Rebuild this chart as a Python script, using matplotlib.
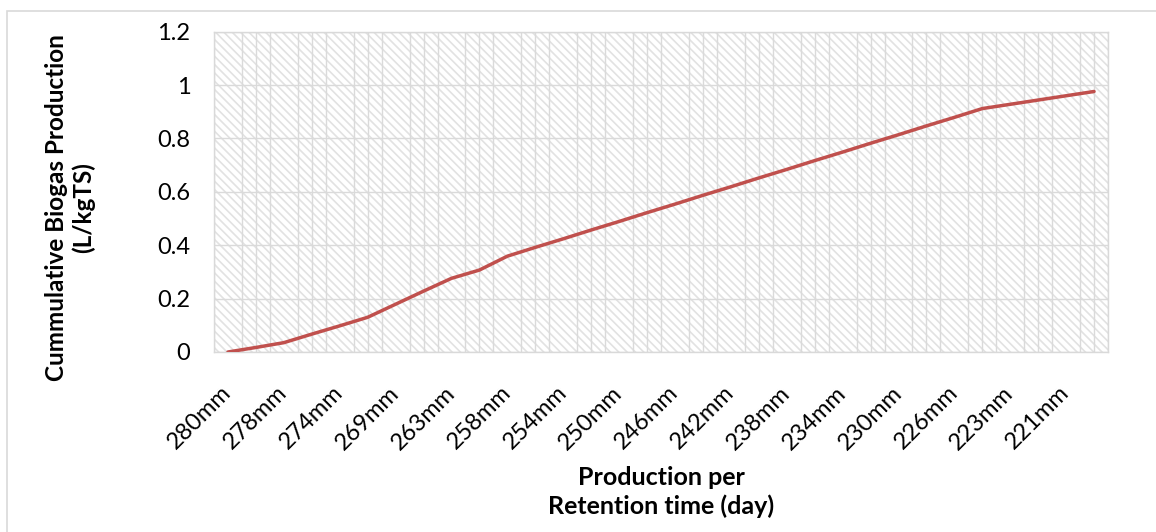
import numpy as np
import matplotlib
matplotlib.use("Agg")
import matplotlib.pyplot as plt
from matplotlib.patches import Rectangle

plt.rcParams['font.family'] = ['Lato', 'DejaVu Sans']
plt.rcParams['hatch.linewidth'] = 1.2
plt.rcParams['hatch.color'] = '#e2e2e2'

# 32 readings, every second one labelled on the axis
biogas = [0.0, 0.017, 0.035, 0.067, 0.098, 0.130, 0.179, 0.228, 0.276, 0.307,
          0.359, 0.392, 0.424, 0.457, 0.489, 0.522, 0.554, 0.587, 0.619, 0.652,
          0.684, 0.717, 0.749, 0.782, 0.814, 0.847, 0.879, 0.912, 0.928, 0.944,
          0.960, 0.976]
tick_labels = ['280mm', '278mm', '274mm', '269mm', '263mm', '258mm', '254mm', '250mm',
               '246mm', '242mm', '238mm', '234mm', '230mm', '226mm', '223mm', '221mm']
y_ticks = [0, 0.2, 0.4, 0.6, 0.8, 1, 1.2]
y_tick_text = ['0', '0.2', '0.4', '0.6', '0.8', '1', '1.2']

fig = plt.figure(figsize=(11.56, 5.32), dpi=100)
ax = fig.add_axes([214 / 1156, 1 - 352 / 532, (1108 - 214) / 1156, (352 - 31.7) / 532])

# outer chart frame (cut off at right and bottom)
fig.patches.append(Rectangle((7 / 1156, -0.1), 1.2, 1 - 11 / 532 + 0.1,
                             transform=fig.transFigure, fill=False,
                             edgecolor='#d9d9d9', lw=1.2, zorder=0))

x = np.arange(len(biogas))
n = len(biogas)

# hatched plot background
ax.add_patch(Rectangle((0, 0), 1, 1, transform=ax.transAxes, facecolor='white',
                       edgecolor='#e2e2e2', hatch='\\\\\\\\', lw=0, zorder=0))

ax.plot(x, biogas, color='#C0504D', lw=2.5, solid_capstyle='round', zorder=3)

ax.set_xlim(-0.5, n - 0.5)
ax.set_ylim(0, 1.2)

ax.set_xticks(x[::2])
ax.set_xticklabels(tick_labels, rotation=45, ha='right', va='center',
                   rotation_mode='anchor', fontsize=17)
ax.set_xticks(np.arange(-0.5, n, 0.5), minor=True)
ax.set_yticks(y_ticks)
ax.set_yticklabels(y_tick_text, fontsize=17)
ax.tick_params(which='both', length=0)
ax.tick_params(axis='y', pad=17)
ax.tick_params(axis='x', pad=27)

ax.grid(axis='x', which='minor', color='#dadada', lw=1, zorder=1)
ax.grid(axis='y', which='major', color='#dadada', lw=1, zorder=1)
ax.set_axisbelow(True)
for s in ax.spines.values():
    s.set_color('#d9d9d9')
    s.set_linewidth(1)

fig.text(70 / 1156, 1 - 208 / 532, 'Cummulative Biogas Production\n(L/kgTS)',
         rotation=90, ha='center', va='center', fontsize=17.5, fontweight='bold',
         linespacing=1.2)
fig.text(661 / 1156, 1 - 492 / 532, 'Production per\nRetention time (day)',
         ha='center', va='center', fontsize=18, fontweight='bold', linespacing=1.25)

fig.savefig('out.png', dpi=100)
